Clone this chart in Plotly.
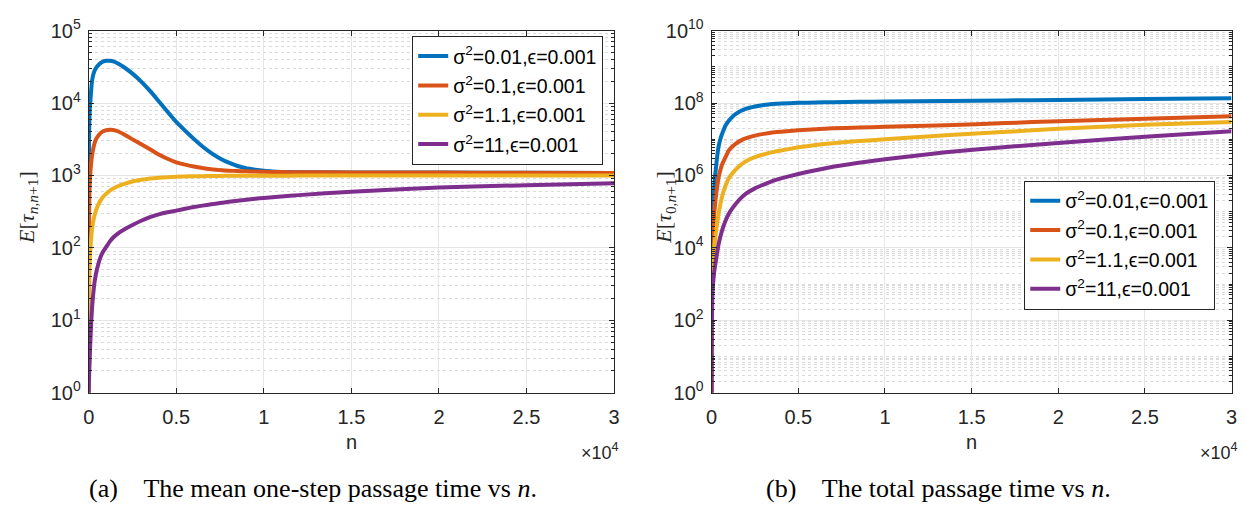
import plotly.graph_objects as go

W, H = 1246, 515

# ---------------- data ----------------
n_left = [0, 10, 20, 35, 50, 75, 100, 150, 200, 300, 400, 550, 700, 850, 1000, 1200, 1400, 1700,
          2000, 2500, 3000, 3500, 4000, 4500, 5000, 5500, 6000, 6500, 7000, 7500, 8000, 8500,
          9000, 9500, 10000, 11000, 12000, 15000, 20000, 25000, 30000]
left_s001 = [1, 1200, 3000, 5200, 7000, 9200, 11000, 16000, 21000, 26500, 30000, 33500, 36000,
             37500, 38300, 38300, 37700, 35000, 31500, 25500, 19800, 14700, 10600, 7600, 5500,
             4170, 3200, 2510, 2040, 1720, 1500, 1350, 1260, 1200, 1160, 1120, 1110, 1100, 1095,
             1090, 1085]
left_s01 = [1, 100, 250, 450, 650, 900, 1150, 1570, 1950, 2600, 3100, 3550, 3900, 4100, 4200,
            4270, 4250, 4050, 3700, 3150, 2700, 2300, 1950, 1700, 1520, 1410, 1330, 1265, 1215,
            1185, 1165, 1150, 1140, 1130, 1122, 1113, 1107, 1100, 1095, 1090, 1085]
left_s11 = [1, 9, 20, 37, 55, 78, 100, 145, 190, 260, 320, 395, 460, 515, 560, 615, 660, 715,
            760, 825, 870, 905, 930, 948, 960, 968, 975, 979, 983, 986, 988, 990, 991, 992, 993,
            994, 995, 997, 998, 999, 999]
left_s110 = [1, 1.3, 1.6, 2.0, 2.5, 3.8, 5.5, 10, 16, 29, 42, 60, 77, 91, 103, 122, 139, 160,
             178, 207, 237, 265, 290, 310, 327, 347, 366, 383, 400, 416, 432, 447, 462, 476, 490,
             513, 535, 598, 680, 735, 780]

n_right = [0, 5, 10, 20, 35, 50, 75, 100, 150, 200, 250, 300, 400, 500, 600, 800, 1000, 1200,
           1400, 1700, 2000, 2500, 3000, 3500, 4000, 5000, 6000, 7000, 8500, 10000, 13500, 17000,
           20000, 25000, 30000]
right_s001 = [1, 3.2e2, 1.6e3, 5.0e3, 1.8e4, 4.0e4, 1.0e5, 2.0e5, 5.0e5, 1.0e6, 1.6e6, 2.8e6,
              6.3e6, 1.0e7, 1.4e7, 2.4e7, 3.3e7, 4.2e7, 5.0e7, 6.1e7, 7.0e7, 8.0e7, 8.8e7,
              9.35e7, 9.7e7, 1.015e8, 1.035e8, 1.055e8, 1.08e8, 1.10e8, 1.14e8, 1.18e8, 1.22e8,
              1.29e8, 1.35e8]
right_s01 = [1, 1.0e2, 4.0e2, 1.6e3, 5.0e3, 1.0e4, 2.2e4, 4.0e4, 8.9e4, 1.6e5, 2.8e5, 4.2e5,
             8.9e5, 1.4e6, 2.0e6, 3.2e6, 5.0e6, 6.3e6, 7.6e6, 9.3e6, 1.07e7, 1.26e7, 1.41e7,
             1.53e7, 1.62e7, 1.78e7, 1.9e7, 2.0e7, 2.1e7, 2.2e7, 2.45e7, 2.8e7, 3.16e7, 3.7e7,
             4.3e7]
right_s11 = [1, 40, 130, 400, 1.1e3, 2.0e3, 3.6e3, 5.6e3, 1.0e4, 1.7e4, 2.8e4, 4.2e4, 8.9e4,
             1.6e5, 2.6e5, 5.2e5, 8.5e5, 1.15e6, 1.48e6, 2.0e6, 2.5e6, 3.2e6, 3.8e6, 4.4e6,
             4.9e6, 6.0e6, 6.9e6, 7.8e6, 8.9e6, 1.0e7, 1.29e7, 1.6e7, 1.95e7, 2.5e7, 3.0e7]
right_s110 = [1, 16, 50, 125, 320, 560, 900, 1.26e3, 2.2e3, 3.2e3, 4.5e3, 6.5e3, 1.26e4,
              2.0e4, 3.0e4, 5.6e4, 8.9e4, 1.25e5, 1.66e5, 2.4e5, 3.2e5, 4.4e5, 5.6e5, 7.0e5,
              8.3e5, 1.1e6, 1.4e6, 1.74e6, 2.25e6, 2.8e6, 4.4e6, 6.1e6, 7.9e6, 1.17e7, 1.66e7]

series_names = ["σ<sup>2</sup>=0.01,ϵ=0.001", "σ<sup>2</sup>=0.1,ϵ=0.001",
                "σ<sup>2</sup>=1.1,ϵ=0.001", "σ<sup>2</sup>=11,ϵ=0.001"]
colors = ["#0072BD", "#D95319", "#EDB120", "#7E2F8E"]

x_tickvals = [0, 5000, 10000, 15000, 20000, 25000, 30000]
x_ticktext = ["0", "0.5", "1", "1.5", "2", "2.5", "3"]
yl_tickvals = [1, 10, 100, 1e3, 1e4, 1e5]
yl_ticktext = ["10<sup>0</sup>", "10<sup>1</sup>", "10<sup>2</sup>", "10<sup>3</sup>",
               "10<sup>4</sup>", "10<sup>5</sup>"]
yr_tickvals = [1, 1e2, 1e4, 1e6, 1e8, 1e10]
yr_ticktext = ["10<sup>0</sup>", "10<sup>2</sup>", "10<sup>4</sup>", "10<sup>6</sup>",
               "10<sup>8</sup>", "10<sup>10</sup>"]

# ---------------- figure ----------------
fig = go.Figure()
left_data = [left_s001, left_s01, left_s11, left_s110]
right_data = [right_s001, right_s01, right_s11, right_s110]
for i, (name, c, y) in enumerate(zip(series_names, colors, left_data)):
    fig.add_trace(go.Scatter(x=n_left, y=y, mode="lines", name=name, legendgroup=f"L{i}",
                             line=dict(color=c, width=4, shape="spline", smoothing=0.3),
                             xaxis="x", yaxis="y", legend="legend"))
for i, (name, c, y) in enumerate(zip(series_names, colors, right_data)):
    fig.add_trace(go.Scatter(x=n_right, y=y, mode="lines", name=name, legendgroup=f"R{i}",
                             line=dict(color=c, width=4, shape="spline", smoothing=0.3),
                             xaxis="x2", yaxis="y2", legend="legend2"))

def px(x):
    return x / W

def py(y):
    return 1 - y / H

AX = "#262626"
sans = "Liberation Sans, Arial, sans-serif"
serif = "Liberation Serif, Times New Roman, serif"
tickfont = dict(family=sans, size=20, color=AX)

def xaxis(domain, anchor):
    return dict(domain=domain, anchor=anchor, range=[0, 30000], tickvals=x_tickvals,
                ticktext=x_ticktext, ticks="inside", ticklen=5, tickcolor=AX,
                showline=True, linecolor=AX, linewidth=1, mirror="ticks",
                showgrid=True, gridcolor="#e6e6e6", gridwidth=1, zeroline=False,
                tickfont=tickfont, ticklabelstandoff=6)

def yaxis(domain, anchor, rng, tv, tt):
    return dict(domain=domain, anchor=anchor, type="log", range=rng, tickvals=tv,
                ticktext=tt, ticks="inside", ticklen=5, tickcolor=AX,
                showline=True, linecolor=AX, linewidth=1, mirror="ticks",
                showgrid=True, gridcolor="#e6e6e6", gridwidth=1, zeroline=False,
                tickfont=tickfont, ticklabelstandoff=3,
                minor=dict(dtick="D1", ticks="inside", ticklen=3, tickcolor=AX,
                           showgrid=True, gridcolor="#dadada", griddash="dot", gridwidth=1))

legfont = dict(family=sans, size=19.5, color="black")
yd = [py(398), py(17.5)]
fig.update_layout(
    width=W, height=H, margin=dict(l=0, r=0, t=0, b=0),
    paper_bgcolor="white", plot_bgcolor="white",
    xaxis=xaxis([px(83.5), px(614)], "y"),
    yaxis=yaxis(yd, "x", [0, 5], yl_tickvals, yl_ticktext),
    xaxis2=xaxis([px(712.5), px(1237.5)], "y2"),
    yaxis2=yaxis(yd, "x2", [0, 10], yr_tickvals, yr_ticktext),
    legend=dict(x=px(603), xanchor="right", y=py(23), yanchor="top", bgcolor="white",
                bordercolor=AX, borderwidth=1, tracegroupgap=1, font=legfont),
    legend2=dict(x=px(1221), xanchor="right", y=py(175), yanchor="top", bgcolor="white",
                 bordercolor=AX, borderwidth=1, tracegroupgap=1, font=legfont),
    showlegend=True,
)

ann = [
    dict(x=px(22), y=py(203), text="<i>E</i>[<i>τ</i><sub><i>n</i>,<i>n</i>+1</sub>]",
         textangle=-90, font=dict(family=serif, size=22, color=AX)),
    dict(x=px(666), y=py(203), text="<i>E</i>[<i>τ</i><sub>0,<i>n</i>+1</sub>]",
         textangle=-90, font=dict(family=serif, size=22, color=AX)),
    dict(x=px(349), y=py(450), text="n", font=dict(family=sans, size=20, color=AX)),
    dict(x=px(975), y=py(450), text="n", font=dict(family=sans, size=20, color=AX)),
    dict(x=px(621), y=py(460), xanchor="right", text="×10<sup>4</sup>",
         font=dict(family=sans, size=18, color=AX)),
    dict(x=px(1246), y=py(460), xanchor="right", text="×10<sup>4</sup>",
         font=dict(family=sans, size=18, color=AX)),
    dict(x=px(310), y=py(499), text="(a)    The mean one-step passage time vs <i>n</i>.",
         font=dict(family=serif, size=26, color="black")),
    dict(x=px(942), y=py(499), text="(b)    The total passage time vs <i>n</i>.",
         font=dict(family=serif, size=26, color="black")),
]
for a in ann:
    a.update(xref="paper", yref="paper", showarrow=False)
    a.setdefault("xanchor", "center")
    a.setdefault("yanchor", "middle")
fig.update_layout(annotations=ann)

fig.write_html("out.html")
